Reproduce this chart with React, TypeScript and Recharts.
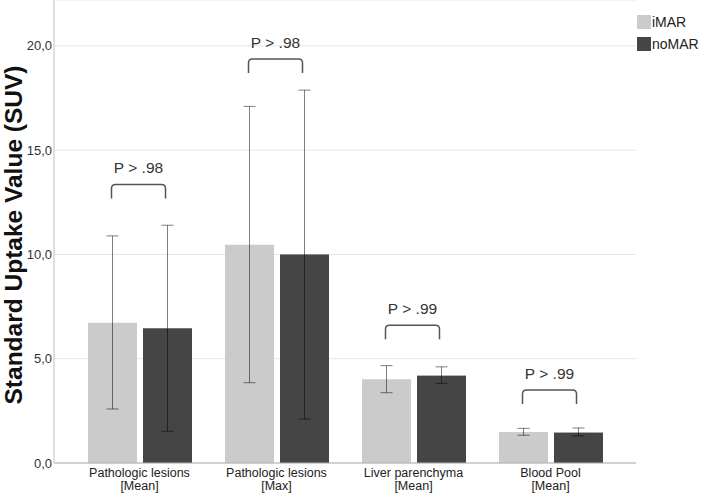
import { BarChart, Bar, XAxis, YAxis, CartesianGrid, ErrorBar } from "recharts";

const categories = [
  "Pathologic lesions\n[Mean]",
  "Pathologic lesions\n[Max]",
  "Liver parenchyma\n[Mean]",
  "Blood Pool\n[Mean]",
];
const imar = [6.73, 10.46, 4.02, 1.49];
const imarLow = [2.59, 3.85, 3.37, 1.33];
const imarHigh = [10.89, 17.1, 4.67, 1.66];
const nomar = [6.46, 10.0, 4.19, 1.46];
const nomarLow = [1.52, 2.11, 3.82, 1.3];
const nomarHigh = [11.4, 17.88, 4.61, 1.68];
const pLabels = ["P > .98", "P > .98", "P > .99", "P > .99"];
const bracketTop = [13.35, 19.37, 6.6, 3.5];
const yTicks = [0, 5, 10, 15, 20];

const IMAR_COLOR = "#cbcbcb";
const NOMAR_COLOR = "#454545";
const FONT = "'Liberation Sans', Arial, sans-serif";
const BAR_GAP = 6;

const rows = categories.map((name, i) => ({
  name,
  iMAR: imar[i],
  noMAR: nomar[i],
  iMARErr: [imar[i] - imarLow[i], imarHigh[i] - imar[i]],
  noMARErr: [nomar[i] - nomarLow[i], nomarHigh[i] - nomar[i]],
}));

// noMAR bar plus the significance bracket over the pair
function NoMarShape(props: any) {
  const { x, y, width, height, index, fill } = props;
  const base = y + height;
  const perUnit = height / nomar[index];
  const top = base - bracketTop[index] * perUnit;
  const left = x - BAR_GAP - width / 2 - 1;
  const right = x + width / 2 - 2;
  const r = 4;
  const foot = 14;
  return (
    <g>
      <rect x={x} y={y} width={width} height={height} fill={fill} />
      <path
        d={`M${left},${top + foot} L${left},${top + r} Q${left},${top} ${left + r},${top} L${right - r},${top} Q${right},${top} ${right},${top + r} L${right},${top + foot}`}
        fill="none"
        stroke="#555"
        strokeWidth={1.5}
      />
      <text
        x={(left + right) / 2}
        y={top - 17}
        textAnchor="middle"
        dominantBaseline="central"
        fontSize={15.5}
        fill="#333"
        fontFamily={FONT}
      >
        {pLabels[index]}
      </text>
    </g>
  );
}

function CategoryTick(props: any) {
  const { x, y, payload } = props;
  const lines = String(payload.value).split("\n");
  return (
    <g>
      {lines.map((l, i) => (
        <text
          key={i}
          x={x}
          y={y + 7.5 + i * 13.5}
          dominantBaseline="central"
          textAnchor="middle"
          fontSize={12.5}
          fill="#222"
          fontFamily={FONT}
        >
          {l}
        </text>
      ))}
    </g>
  );
}

export default function App() {
  return (
    <div style={{ position: "absolute", left: 0, top: 0, width: 708, height: 493, background: "#fff" }}>
      <BarChart
        width={708}
        height={493}
        data={rows}
        margin={{ top: 0, right: 72, left: 0, bottom: 0 }}
        barGap={BAR_GAP}
        style={{ fontFamily: FONT }}
      >
        <CartesianGrid vertical={false} stroke="#e6e6e6" />
        <XAxis
          dataKey="name"
          height={30}
          padding={{ left: 17, right: 17 }}
          axisLine={{ stroke: "#b0b0b0" }}
          tickLine={false}
          tickSize={0}
          tick={<CategoryTick />}
          interval={0}
        />
        <YAxis
          width={54}
          domain={[0, 22.2]}
          ticks={yTicks}
          allowDataOverflow
          axisLine={{ stroke: "#c0c0c0" }}
          tickLine={false}
          tickSize={0}
          tickMargin={2}
          tick={{ fontSize: 13, fill: "#333", fontFamily: FONT }}
          tickFormatter={(v: number) => v.toFixed(1).replace(".", ",")}
          label={() => (
            <text
              x={22}
              y={235}
              transform="rotate(-90 22 235)"
              textAnchor="middle"
              fontSize={24.5}
              fontWeight="bold"
              fill="#111"
              fontFamily={FONT}
            >
              Standard Uptake Value (SUV)
            </text>
          )}
        />
        <Bar dataKey="iMAR" fill={IMAR_COLOR} barSize={49} isAnimationActive={false}>
          <ErrorBar dataKey="iMARErr" width={6} stroke="rgba(0,0,0,0.5)" strokeWidth={1} />
        </Bar>
        <Bar dataKey="noMAR" fill={NOMAR_COLOR} barSize={49} isAnimationActive={false} shape={<NoMarShape />}>
          <ErrorBar dataKey="noMARErr" width={6} stroke="rgba(0,0,0,0.5)" strokeWidth={1} />
        </Bar>
      </BarChart>
      <div style={{ position: "absolute", left: 637, top: 15, fontFamily: FONT, fontSize: 14, color: "#222" }}>
        {[
          ["iMAR", IMAR_COLOR],
          ["noMAR", NOMAR_COLOR],
        ].map(([name, color]) => (
          <div key={name} style={{ display: "flex", alignItems: "center", height: 14, marginBottom: 8 }}>
            <span style={{ width: 14, height: 14, background: color, display: "inline-block", marginRight: 1 }} />
            <span style={{ lineHeight: "14px" }}>{name}</span>
          </div>
        ))}
      </div>
    </div>
  );
}
